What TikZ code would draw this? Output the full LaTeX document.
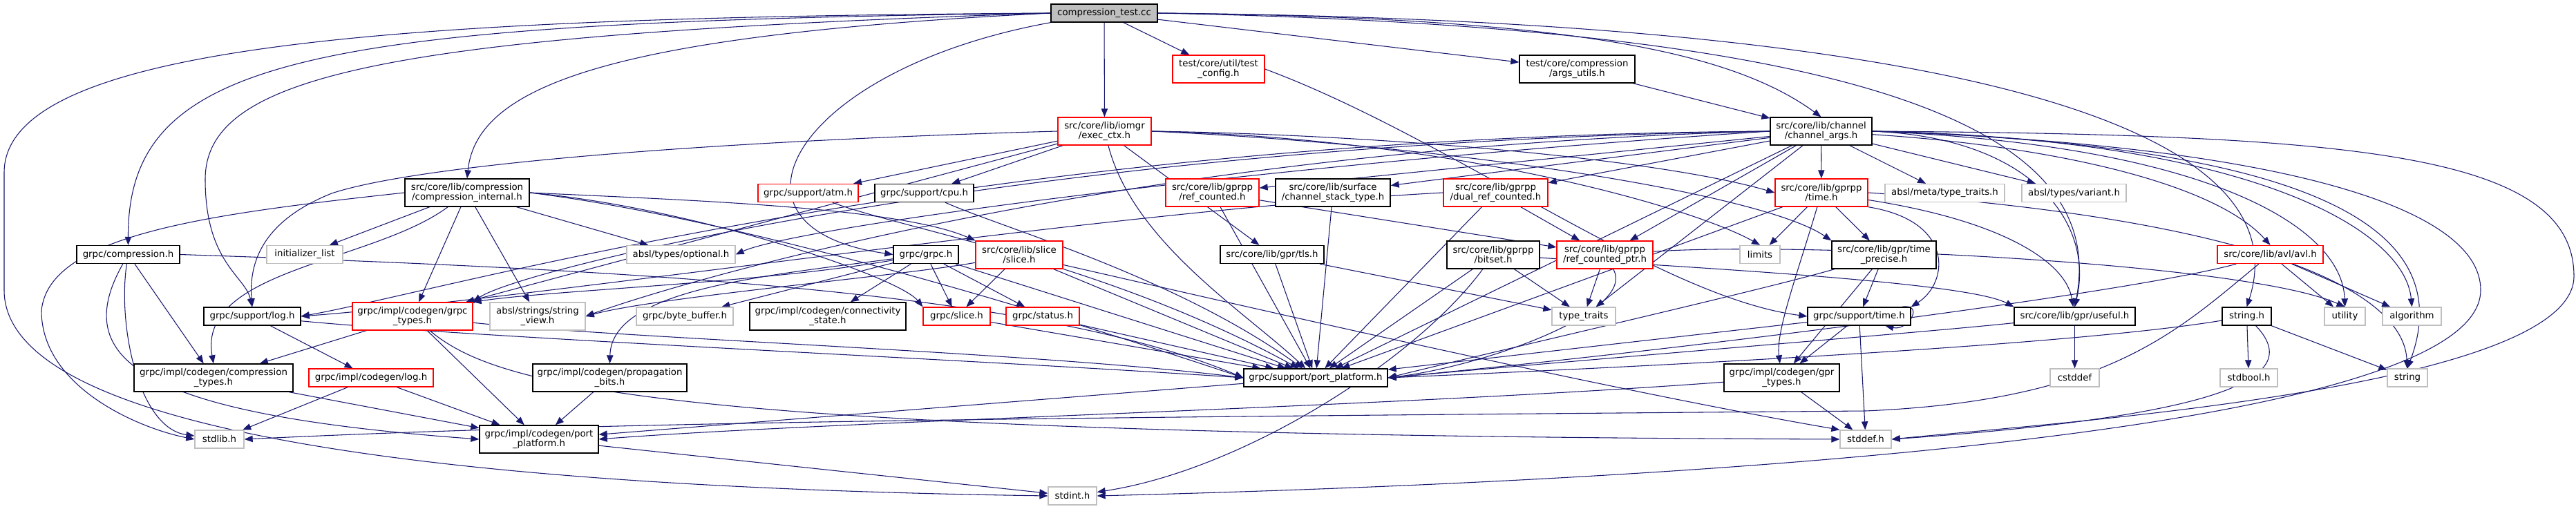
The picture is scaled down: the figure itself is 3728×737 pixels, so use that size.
\documentclass[tikz,border=0pt]{standalone}
\usepackage{fontspec}
\setmainfont{DejaVu Sans}
\usetikzlibrary{arrows.meta}
\pgfdeclarelayer{background}
\pgfsetlayers{background,main}
\definecolor{navyedge}{HTML}{191970}
\definecolor{grey75}{HTML}{BFBFBF}
\tikzset{
    dep/.style={draw=navyedge, line width=0.8pt, -{Triangle[length=9pt,width=7pt]}},
    hdr/.style={draw, line width=1pt, fill=white, inner sep=0pt, minimum height=19.5pt,
        align=center, font=\fontsize{10}{11}\selectfont},
    doc/.style={hdr, draw=black},
    trunc/.style={hdr, draw=red},
    sys/.style={hdr, draw=grey75},
    tall/.style={minimum height=30pt},
    wd/.style={minimum width=#1*0.75pt}
}
\begin{document}
\begin{tikzpicture}[x=0.75pt,y=-0.75pt]
      \useasboundingbox (0,0) rectangle (3728,737);
      % nodes
      \node[doc,fill=grey75,wd=154] (root) at (1598,19) {compression\_test.cc};
      \node[trunc,tall,wd=133] (tcfg) at (1763.5,100) {test/core/util/test\\\_config.h};
      \node[doc,tall,wd=167] (args) at (2282.5,100) {test/core/compression\\/args\_utils.h};
      \node[trunc,tall,wd=135] (exec) at (1598.5,190) {src/core/lib/iomgr\\/exec\_ctx.h};
      \node[doc,tall,wd=147] (chargs) at (2635.5,190) {src/core/lib/channel\\/channel\_args.h};
      \node[doc,tall,wd=180] (cint) at (676,279) {src/core/lib/compression\\/compression\_internal.h};
      \node[trunc,wd=145] (atm) at (1169.5,279.5) {grpc/support/atm.h};
      \node[doc,wd=143] (cpu) at (1337.5,279.5) {grpc/support/cpu.h};
      \node[trunc,tall,wd=135] (refc) at (1754.5,279) {src/core/lib/gprpp\\/ref\_counted.h};
      \node[doc,tall,wd=166] (cst) at (1929,279) {src/core/lib/surface\\/channel\_stack\_type.h};
      \node[trunc,tall,wd=151] (dual) at (2164.5,279) {src/core/lib/gprpp\\/dual\_ref\_counted.h};
      \node[trunc,tall,wd=134] (gtime) at (2636,279) {src/core/lib/gprpp\\/time.h};
      \node[sys,wd=173] (mtt) at (2814.5,279.5) {absl/meta/type\_traits.h};
      \node[sys,wd=151] (variant) at (3001.5,279.5) {absl/types/variant.h};
      \node[doc,wd=149] (gcomp) at (185.5,368.5) {grpc/compression.h};
      \node[sys,wd=110] (initl) at (441,368.5) {initializer\_list};
      \node[sys,wd=157] (optional) at (985.5,368.5) {absl/types/optional.h};
      \node[doc,wd=94] (grpch) at (1340,368.5) {grpc/grpc.h};
      \node[trunc,tall,wd=126] (slice) at (1475,369) {src/core/lib/slice\\/slice.h};
      \node[doc,wd=150] (tls) at (1841,368.5) {src/core/lib/gpr/tls.h};
      \node[doc,tall,wd=134] (bitset) at (2161,369) {src/core/lib/gprpp\\/bitset.h};
      \node[trunc,tall,wd=139] (rcptr) at (2322.5,369) {src/core/lib/gprpp\\/ref\_counted\_ptr.h};
      \node[sys,wd=58] (limits) at (2547,368.5) {limits};
      \node[doc,tall,wd=151] (tprec) at (2726.5,369) {src/core/lib/gpr/time\\\_precise.h};
      \node[trunc,wd=153] (avl) at (3285.5,368.5) {src/core/lib/avl/avl.h};
      \node[doc,wd=140] (log) at (365,458) {grpc/support/log.h};
      \node[trunc,tall,wd=174] (gtypes) at (597,458) {grpc/impl/codegen/grpc\\\_types.h};
      \node[sys,tall,wd=138] (sview) at (778,458) {absl/strings/string\\\_view.h};
      \node[sys,wd=140] (bbuf) at (991,458) {grpc/byte\_buffer.h};
      \node[doc,tall,wd=226] (conn) at (1198,458) {grpc/impl/codegen/connectivity\\\_state.h};
      \node[trunc,wd=97] (gslice) at (1384.5,458) {grpc/slice.h};
      \node[trunc,wd=106] (status) at (1509,458) {grpc/status.h};
      \node[sys,wd=92] (ttraits) at (2292,458) {type\_traits};
      \node[doc,wd=149] (stime) at (2690.5,458) {grpc/support/time.h};
      \node[doc,wd=175] (useful) at (3002.5,458) {src/core/lib/gpr/useful.h};
      \node[doc,wd=71] (strh) at (3251.5,458) {string.h};
      \node[sys,wd=59] (utility) at (3393.5,458) {utility};
      \node[sys,wd=85] (algo) at (3490.5,458) {algorithm};
      \node[doc,tall,wd=230] (ctypes) at (309,547) {grpc/impl/codegen/compression\\\_types.h};
      \node[trunc,wd=180] (clog) at (537,547) {grpc/impl/codegen/log.h};
      \node[doc,tall,wd=223] (prop) at (882.5,547) {grpc/impl/codegen/propagation\\\_bits.h};
      \node[doc,wd=208] (spp) at (1904,547) {grpc/support/port\_platform.h};
      \node[doc,tall,wd=167] (gprt) at (2578.5,547) {grpc/impl/codegen/gpr\\\_types.h};
      \node[sys,wd=71] (cstddef) at (3002.5,547) {cstddef};
      \node[sys,wd=83] (stdbool) at (3254.5,547) {stdbool.h};
      \node[sys,wd=58] (string) at (3484,547) {string};
      \node[sys,wd=71] (stdlib) at (317.5,636) {stdlib.h};
      \node[doc,tall,wd=172] (cpp) at (780,636) {grpc/impl/codegen/port\\\_platform.h};
      \node[sys,wd=74] (stddef) at (2700,636) {stddef.h};
      \node[sys,wd=70] (stdint) at (1552,718) {stdint.h};
      %edges
      \begin{pgfonlayer}{background}
      \fill[white] (0,0) rectangle (3728,737);
      % from compression_test.cc
      \draw[dep] (root.west) .. controls (600,25) and (6,60) .. (6,250) -- (6,420) .. controls (6,560) and (300,700) .. (stdint.west);
      \draw[dep] (root.west) .. controls (450,32) and (185,80) .. (gcomp.north);
      \draw[dep] (root.west) .. controls (550,50) and (297,110) .. (297,260) .. controls (297,380) and (355,400) .. (log.north);
      \draw[dep] (root.west) .. controls (900,50) and (690,120) .. (cint.north);
      \draw[dep] (root.south west) .. controls (1150,100) and (1020,330) .. (grpch.west);
      \draw[dep] (root) -- (exec);
      \draw[dep] (root) -- (tcfg);
      \draw[dep] (root) -- (args);
      \draw[dep] (root.east) .. controls (2250,25) and (2500,70) .. (chargs.north);
      \draw[dep] (root.east) .. controls (2750,40) and (3050,200) .. (useful.north);
      \draw[dep] (root.east) .. controls (2900,30) and (3330,200) .. (strh.north);
      \draw[dep] (tcfg.east) .. controls (2100,200) and (2400,430) .. (stime.west);
      \draw[dep] (args) -- (chargs);
      % exec_ctx.h
      \draw[dep] (exec) -- (atm);
      \draw[dep] (exec) -- (cpu);
      \draw[dep] (exec) -- (tls);
      \draw[dep] (exec.east) .. controls (2000,195) and (2400,230) .. (gtime.west);
      \draw[dep] (exec.east) .. controls (2100,200) and (2450,300) .. (limits.north);
      \draw[dep] (exec.east) .. controls (2100,210) and (2550,280) .. (tprec.north west);
      \draw[dep] (exec) -- (gtypes);
      \draw[dep] (exec.west) .. controls (1000,205) and (600,240) .. (480,280) .. controls (380,320) and (360,380) .. (log.north);
      \draw[dep] (exec) .. controls (1640,350) and (1800,450) .. (spp);
      % channel_args.h
      \draw[dep] (chargs) -- (refc);
      \draw[dep] (chargs) -- (cst);
      \draw[dep] (chargs) -- (dual);
      \draw[dep] (chargs) -- (gtime);
      \draw[dep] (chargs) -- (mtt);
      \draw[dep] (chargs) -- (variant);
      \draw[dep] (chargs) .. controls (2950,210) and (3200,260) .. (avl.north);
      \draw[dep] (chargs) -- (rcptr);
      \draw[dep] (chargs) -- (ttraits);
      \draw[dep] (chargs.west) .. controls (1800,240) and (1150,330) .. (optional.east);
      \draw[dep] (chargs.west) .. controls (1600,215) and (950,420) .. (sview.east);
      \draw[dep] (chargs.west) .. controls (1500,205) and (750,390) .. (gtypes.north east);
      \draw[dep] (chargs.west) .. controls (1400,198) and (650,420) .. (log.east);
      \draw[dep] (chargs) -- (spp);
      \draw[dep] (chargs.east) .. controls (2950,200) and (3030,330) .. (useful.north);
      \draw[dep] (chargs.east) .. controls (3200,210) and (3390,330) .. (utility.north);
      \draw[dep] (chargs.east) .. controls (3250,200) and (3480,330) .. (algo.north);
      \draw[dep] (chargs.east) .. controls (3350,210) and (3560,330) .. (string.north);
      \draw[dep] (chargs.east) .. controls (3400,195) and (3725,220) .. (3725,400) .. controls (3725,560) and (3000,610) .. (stddef.east);
      \draw[dep] (chargs.east) .. controls (3300,210) and (3590,300) .. (3590,420) .. controls (3590,640) and (2300,700) .. (stdint.east);
      % compression_internal.h
      \draw[dep] (cint) -- (initl);
      \draw[dep] (cint) .. controls (540,380) and (285,390) .. (ctypes.north);
      \draw[dep] (cint) -- (gtypes);
      \draw[dep] (cint) -- (sview);
      \draw[dep] (cint) -- (optional);
      \draw[dep] (cint.east) .. controls (1000,290) and (1300,300) .. (slice.north west);
      \draw[dep] (cint.east) .. controls (1000,300) and (1300,400) .. (gslice.north west);
      \draw[dep] (cint.east) .. controls (1100,320) and (1600,480) .. (spp.west);
      \draw[dep] (cint.west) .. controls (300,310) and (70,340) .. (60,450) .. controls (60,560) and (200,620) .. (stdlib.west);
      % grpc/compression.h
      \draw[dep] (gcomp) -- (ctypes);
      \draw[dep] (gcomp) .. controls (170,470) and (200,620) .. (stdlib);
      \draw[dep] (gcomp) .. controls (100,520) and (200,600) .. (cpp.west);
      \draw[dep] (gcomp.east) .. controls (900,390) and (1500,420) .. (spp.west);
      % codegen
      \draw[dep] (log) -- (clog);
      \draw[dep] (log) .. controls (700,490) and (1400,520) .. (spp.west);
      \draw[dep] (gtypes) -- (ctypes);
      \draw[dep] (gtypes) -- (cpp);
      \draw[dep] (gtypes) .. controls (720,560) and (950,630) .. (stddef.west);
      \draw[dep] (gtypes) .. controls (900,490) and (1500,510) .. (spp.west);
      \draw[dep] (ctypes) -- (cpp);
      \draw[dep] (clog) -- (stdlib);
      \draw[dep] (clog) -- (cpp);
      \draw[dep] (prop) -- (cpp);
      % grpc/grpc.h
      \draw[dep] (grpch) -- (bbuf);
      \draw[dep] (grpch) -- (conn);
      \draw[dep] (grpch) -- (gslice);
      \draw[dep] (grpch) -- (status);
      \draw[dep] (grpch) .. controls (1100,400) and (885,420) .. (prop.north);
      \draw[dep] (grpch) .. controls (1100,410) and (800,420) .. (gtypes.north east);
      \draw[dep] (grpch) -- (spp);
      % slice
      \draw[dep] (slice) -- (gslice);
      \draw[dep] (slice) .. controls (1300,400) and (950,430) .. (sview.east);
      \draw[dep] (slice) -- (spp);
      \draw[dep] (slice) .. controls (1700,420) and (2300,560) .. (stddef.north west);
      \draw[dep] (gslice) -- (spp);
      \draw[dep] (status) -- (spp);
      \draw[dep] (atm) .. controls (1300,330) and (1600,380) .. (spp);
      \draw[dep] (cpu) .. controls (1450,330) and (1700,400) .. (spp);
      % gprpp
      \draw[dep] (refc) -- (spp);
      \draw[dep] (refc) -- (rcptr);
      \draw[dep] (cst) -- (spp);
      \draw[dep] (dual) -- (rcptr);
      \draw[dep] (dual) -- (spp);
      \draw[dep] (dual.west) .. controls (1600,305) and (800,430) .. (log.east);
      \draw[dep] (tls) -- (ttraits);
      \draw[dep] (tls) -- (spp);
      \draw[dep] (bitset) -- (ttraits);
      \draw[dep] (bitset) -- (spp);
      \draw[dep] (bitset) .. controls (2050,520) and (1800,680) .. (stdint);
      \draw[dep] (bitset) .. controls (2500,390) and (2850,410) .. (useful.north west);
      \draw[dep] (rcptr) -- (ttraits);
      \draw[dep] (rcptr) .. controls (2370,450) and (2150,530) .. (spp.east);
      \draw[dep] (rcptr) .. controls (2600,350) and (3250,380) .. (utility.north);
      \draw[dep] (gtime) -- (limits);
      \draw[dep] (gtime) -- (tprec);
      \draw[dep] (gtime.south east) .. controls (2830,320) and (2820,410) .. (stime.north east);
      \draw[dep] (gtime) .. controls (2600,400) and (2570,480) .. (gprt);
      \draw[dep] (gtime) -- (spp);
      \draw[dep] (gtime) .. controls (2900,320) and (2990,380) .. (useful);
      \draw[dep] (gtime.east) .. controls (3300,320) and (3480,430) .. (string);
      % time
      \draw[dep] (tprec) -- (stime);
      \draw[dep] (tprec) -- (gprt);
      \draw[dep] (tprec) .. controls (2550,420) and (2200,500) .. (spp.east);
      \draw[dep] (stime) -- (gprt);
      \draw[dep] (stime) -- (stddef);
      \draw[dep] (stime) -- (spp);
      \draw[dep] ([xshift=-10pt]stime.north east) .. controls +(25pt,4pt) and +(25pt,-6pt) .. ([xshift=-28pt]stime.south east);
      \draw[dep] (gprt) -- (stddef);
      \draw[dep] (gprt) .. controls (2000,590) and (1200,610) .. (cpp.east);
      % right side
      \draw[dep] (useful) -- (cstddef);
      \draw[dep] (useful) .. controls (2800,480) and (2300,520) .. (spp.east);
      \draw[dep] (strh) -- (stdbool);
      \draw[dep] (strh) -- (string);
      \draw[dep] (strh) .. controls (3330,540) and (3250,600) .. (stddef.east);
      \draw[dep] (strh) .. controls (3000,500) and (2400,530) .. (spp.east);
      \draw[dep] (avl) .. controls (3150,480) and (3050,580) .. (2700,595) .. controls (1500,605) and (900,610) .. (stdlib.east);
      \draw[dep] (avl) .. controls (3100,420) and (2500,500) .. (spp.east);
      \draw[dep] (avl) -- (utility);
      \draw[dep] (avl) -- (algo);
      \draw[dep] (spp) -- (cpp);
      \draw[dep] (cpp) -- (stdint);
      \end{pgfonlayer}
    \end{tikzpicture}
\end{document}
